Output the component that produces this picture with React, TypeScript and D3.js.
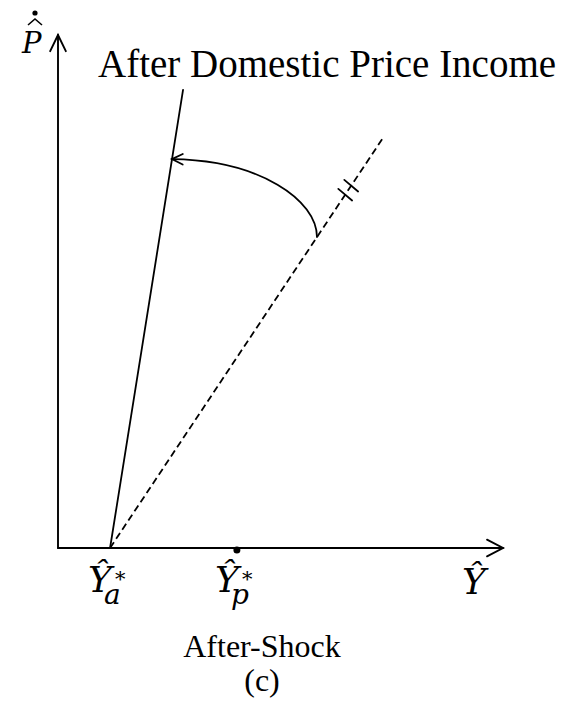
import React from 'react';
import * as d3 from 'd3';

const width = 567, height = 709;

// abstract axis units
const axisDomain = [0, 100];
// equilibrium incomes marked on the horizontal axis
const equilibriumNames = ['a', 'p'];
const equilibriumX = [11.7, 40.2];
// schedules as [income, inflation] points
const afterSchedule: [number, number][] = [[11.7, 0], [28.1, 89.3]];
const beforeSchedule: [number, number][] = [[11.7, 0], [73.0, 79.9]];
// rotation arrow: start, two controls, end
const rotationArc: [number, number][] = [[58.2, 60.6], [58.2, 67.8], [45.4, 75.6], [25.6, 75.8]];
// double hash on the old schedule (fraction along it)
const hashAt = [0.862, 0.884];

const titleText = 'After Domestic Price Income';
const captionText = 'After-Shock';
const panelText = '(c)';

const mathFont = '"DejaVu Serif", serif';
const textFont = '"Liberation Serif", "Times New Roman", serif';

function chevron(tx: number, ty: number, ang: number, len: number, spread: number) {
  // ang = direction the arrow points to (radians)
  const a1 = ang + Math.PI - spread, a2 = ang + Math.PI + spread;
  return `M${tx + len * Math.cos(a1)},${ty + len * Math.sin(a1)}L${tx},${ty}L${tx + len * Math.cos(a2)},${ty + len * Math.sin(a2)}`;
}

export default function App() {
  const x = d3.scaleLinear().domain(axisDomain).range([58, 503]);
  const y = d3.scaleLinear().domain(axisDomain).range([548, 35]);
  const line = d3.line<[number, number]>().x(d => x(d[0])).y(d => y(d[1]));

  const arc = d3.path();
  const pts = rotationArc.map(d => [x(d[0]), y(d[1])]);
  arc.moveTo(pts[0][0], pts[0][1]);
  arc.bezierCurveTo(pts[1][0], pts[1][1], pts[2][0], pts[2][1], pts[3][0], pts[3][1]);
  const endAng = Math.atan2(pts[3][1] - pts[2][1], pts[3][0] - pts[2][0]);

  const b0 = beforeSchedule[0], b1 = beforeSchedule[1];
  const hashDir = 40 * Math.PI / 180;

  const x0 = x(0), y0 = y(0);

  return (
    <svg width={width} height={height} style={{ position: 'absolute', left: 0, top: 0, background: '#fff' }}>
      <g fill="none" stroke="#000" strokeWidth={1.9} strokeLinecap="round">
        {/* axes */}
        <line x1={x0} y1={y0} x2={x(100)} y2={y0} />
        <line x1={x0} y1={y0} x2={x0} y2={y(100)} />
        <path d={chevron(x(100), y0, 0, 18, 0.48)} />
        <path d={chevron(x0, y(100), -Math.PI / 2, 18, 0.45)} />
        {/* schedules */}
        <path d={line(afterSchedule) || ''} strokeWidth={1.8} />
        <path d={line(beforeSchedule) || ''} strokeWidth={1.8} strokeDasharray="7,4" strokeLinecap="butt" />
        {hashAt.map((f, i) => {
          const cx = x(b0[0] + f * (b1[0] - b0[0]));
          const cy = y(b0[1] + f * (b1[1] - b0[1]));
          return <line key={i} x1={cx - 9 * Math.cos(hashDir)} y1={cy - 9 * Math.sin(hashDir)}
            x2={cx + 9 * Math.cos(hashDir)} y2={cy + 9 * Math.sin(hashDir)} strokeWidth={1.8} />;
        })}
        {/* rotation arrow */}
        <path d={arc.toString()} strokeWidth={1.8} />
        <path d={chevron(pts[3][0], pts[3][1], endAng, 12, 0.45)} strokeWidth={1.8} />
      </g>
      <circle cx={x(equilibriumX[1])} cy={y0 + 2} r={3.5} fill="#000" />

      {/* vertical axis label: P with hat and dot */}
      <text x={22} y={53} fontFamily={mathFont} fontStyle="italic" fontSize={29}>P</text>
      <path d="M28,25L35,19L42,25" fill="none" stroke="#000" strokeWidth={1.6} />
      <circle cx={35} cy={13} r={2.6} fill="#000" />

      <text x={98} y={77} fontFamily={textFont} fontSize={39}>{titleText}</text>

      {equilibriumNames.map(n => {
        const lx = x(equilibriumX[equilibriumNames.indexOf(n)]) - 22;
        return (
          <g key={n} fontFamily={mathFont}>
            <text x={lx} y={592} fontStyle="italic" fontSize={36}>Ŷ</text>
            <text x={lx + 27} y={586} fontSize={21}>*</text>
            <text x={lx + 16} y={604} fontStyle="italic" fontSize={28}>{n}</text>
          </g>
        );
      })}
      <text x={x(100) - 41} y={594} fontFamily={mathFont} fontStyle="italic" fontSize={36}>Ŷ</text>

      <text x={262} y={657} textAnchor="middle" fontFamily={textFont} fontSize={32}>{captionText}</text>
      <text x={262} y={691} textAnchor="middle" fontFamily={textFont} fontSize={32}>{panelText}</text>
    </svg>
  );
}
